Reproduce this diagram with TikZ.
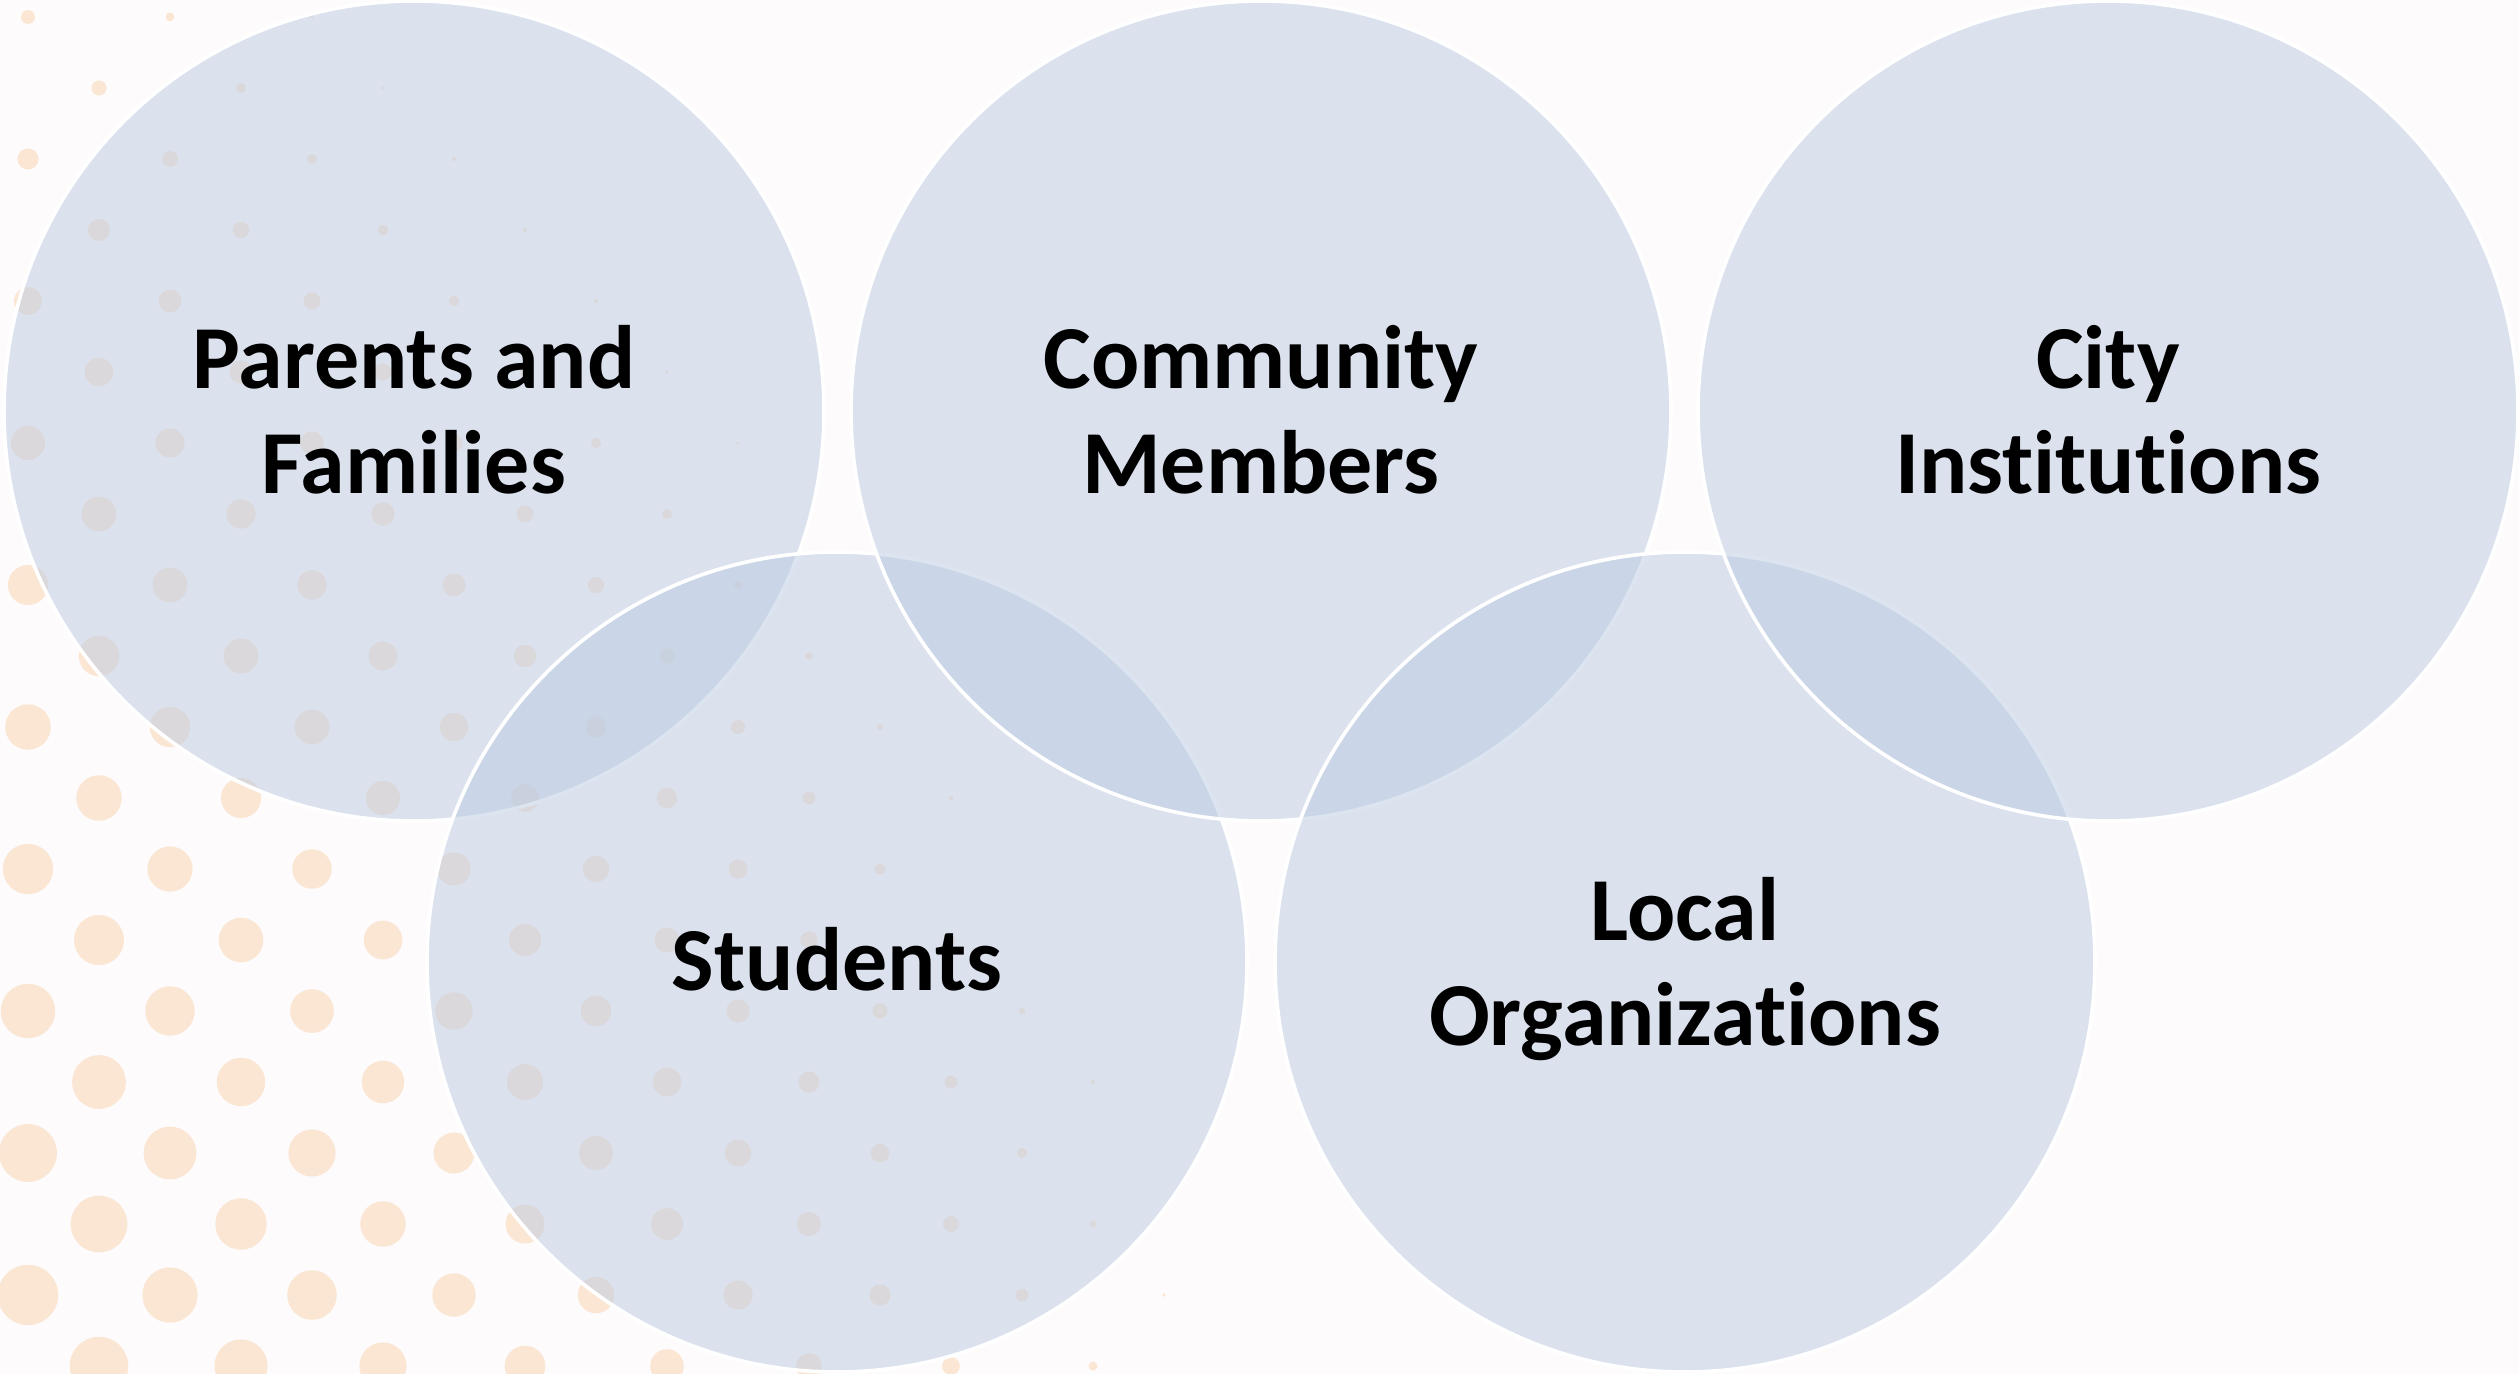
\documentclass[tikz,border=0pt]{standalone}
\usepackage{fontspec}
\setmainfont{Carlito}[Ligatures={NoCommon,NoContextual}]
\definecolor{bgc}{RGB}{253,251,251}
\definecolor{dotc}{RGB}{251,230,212}
\definecolor{circc}{RGB}{187,203,226}
\tikzset{
 venn/.style={circle, minimum size=410pt, inner sep=0pt, fill=circc, fill opacity=0.5, draw=white, line width=1.8pt},
 lbl/.style={font=\fontsize{45}{52.5}\selectfont\bfseries, align=center, text=black, inner sep=0pt, anchor=base},
}
\begin{document}
\begin{tikzpicture}[x=0.5pt,y=-0.5pt]
\fill[bgc] (0,0) rectangle (2519,1374);
\useasboundingbox (0,0) rectangle (2519,1374);
\foreach \j in {0,...,19}{
 \foreach \i in {0,...,16}{
  \pgfmathsetmacro{\okv}{int(mod(\i+\j,2))}
  \ifnum\okv=0
   \pgfmathsetmacro{\xv}{28+71*\i}
   \pgfmathsetmacro{\yv}{17+71*\j}
   \pgfmathsetmacro{\tv}{1-\yv/1374}
   \pgfmathsetmacro{\uv}{(\xv-28)/100}
   \pgfmathsetmacro{\rv}{30.5-24*\tv*sqrt(\tv)-1.7*\uv-0.07*\uv*\uv}
   \pgfmathsetmacro{\visv}{int(\rv>1.5)}
   \ifnum\visv=1 \fill[dotc] (\xv,\yv) circle[radius=\rv*0.5pt]; \fi
  \fi
 }}
\node[venn] (P) at (414,411) {};
\node[venn] (S) at (837,962) {};
\node[venn] (C) at (1261,411) {};
\node[venn] (L) at (1685,962) {};
\node[venn] (I) at (2108,411) {};
\node[lbl] (tP) at (414,493) {Parents and\\Families};
\node[lbl] (tC) at (1261,493) {Community\\Members};
\node[lbl] (tI) at (2108,493) {City\\Institutions};
\node[lbl] (tS) at (837,990) {Students};
\node[lbl] (tL) at (1685,1045) {Local\\Organizations};
\end{tikzpicture}
\end{document}
